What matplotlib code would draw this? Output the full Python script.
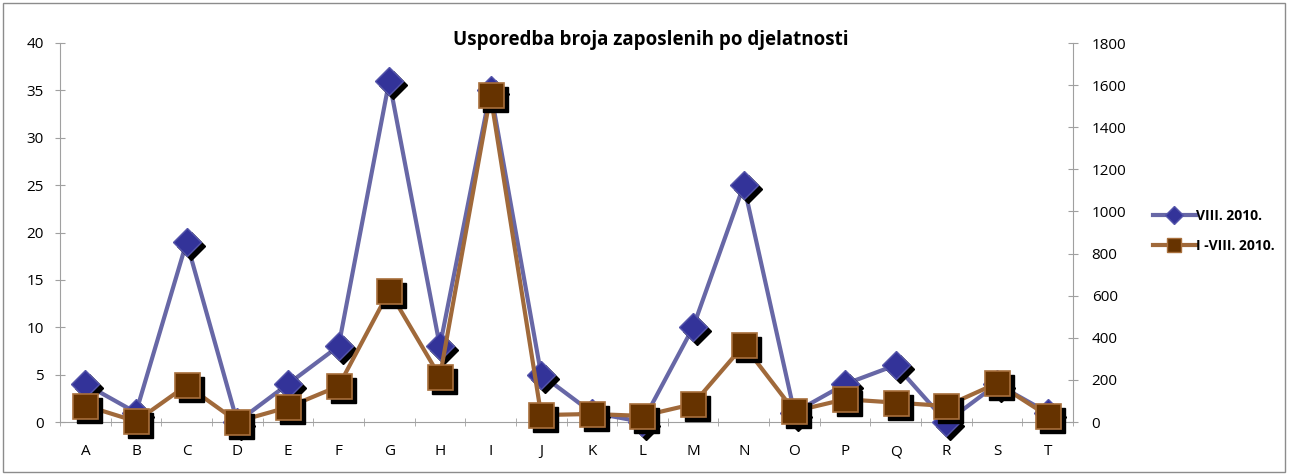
import matplotlib
matplotlib.use("Agg")
from matplotlib import pyplot as plt
from matplotlib import transforms
from matplotlib.patches import Rectangle
from matplotlib.lines import Line2D
import numpy as np

categories = ["A", "B", "C", "D", "E", "F", "G", "H", "I", "J",
              "K", "L", "M", "N", "O", "P", "Q", "R", "S", "T"]
viii_2010 = [4, 1, 19, 0, 4, 8, 36, 8, 35, 5, 1, 0, 10, 25, 1, 4, 6, 0, 4, 1]
i_viii_2010 = [78, 3, 174, 2, 70, 170, 622, 215, 1553, 33,
               38, 29, 85, 365, 51, 108, 92, 76, 184, 30]
left_ticks = [0, 5, 10, 15, 20, 25, 30, 35, 40]
right_ticks = [0, 200, 400, 600, 800, 1000, 1200, 1400, 1600, 1800]

blue_line = "#6767a6"
blue_face = "#333399"
blue_edge = "#5555aa"
brown_line = "#a0693a"
brown_face = "#663300"
brown_edge = "#a86f3c"

plt.rcParams["font.family"] = ["Open Sans", "DejaVu Sans"]

fig = plt.figure(figsize=(12.89, 4.74), dpi=100)
ax = fig.add_axes([60 / 1289, 1 - 422 / 474, (1073 - 60) / 1289, (422 - 43) / 474])
ax2 = ax.twinx()

x = np.arange(len(categories))

def shadow(a):
    return transforms.offset_copy(a.transData, fig=fig, x=4, y=-4, units="dots")

# series 1 on left axis
ax.plot(x, viii_2010, color=blue_line, lw=3, zorder=2, clip_on=False)
ax.plot(x, viii_2010, ls="none", marker="D", ms=14, color="black",
        transform=shadow(ax), zorder=3, clip_on=False)
ax.plot(x, viii_2010, ls="none", marker="D", ms=14, mfc=blue_face,
        mec=blue_edge, mew=1, zorder=4, clip_on=False)

# series 2 on right axis
ax2.plot(x, i_viii_2010, color=brown_line, lw=3, zorder=2, clip_on=False)
ax2.plot(x, i_viii_2010, ls="none", marker="s", ms=18, color="black",
         transform=shadow(ax2), zorder=3, clip_on=False)
ax2.plot(x, i_viii_2010, ls="none", marker="s", ms=18, mfc=brown_face,
         mec=brown_edge, mew=1.2, zorder=4, clip_on=False)

ax.set_xlim(-0.5, len(categories) - 0.5)
ax.set_ylim(0, 40)
ax2.set_ylim(0, 1800)
ax.set_yticks(left_ticks)
ax2.set_yticks(right_ticks)
ax.set_xticks(x)
ax.set_xticklabels(categories)
ax.set_xticks(np.arange(-0.5, len(categories)), minor=True)

axis_gray = "#a0a0a0"
for a in (ax, ax2):
    for s in a.spines.values():
        s.set_visible(False)
ax.spines["left"].set_visible(True)
ax.spines["left"].set_color(axis_gray)
ax.spines["bottom"].set_visible(True)
ax.spines["bottom"].set_color(axis_gray)
ax2.spines["right"].set_visible(True)
ax2.spines["right"].set_color(axis_gray)

ax.tick_params(axis="x", which="major", length=0, pad=16, labelsize=11)
ax.tick_params(axis="x", which="minor", length=6, color=axis_gray, direction="inout")
ax.tick_params(axis="y", length=7, color=axis_gray, direction="inout", labelsize=11, pad=8)
ax2.tick_params(axis="y", length=7, color=axis_gray, direction="inout", labelsize=11, pad=10)

fig.text(651 / 1289, 1 - 40 / 474, "Usporedba broja zaposlenih po djelatnosti",
         ha="center", va="center", fontsize=13.5, fontweight="bold")

handles = [
    Line2D([], [], color=blue_line, lw=3, marker="D", ms=9, mfc=blue_face, mec=blue_edge),
    Line2D([], [], color=brown_line, lw=3, marker="s", ms=10, mfc=brown_face, mec=brown_edge),
]
fig.legend(handles, ["VIII. 2010.", "I -VIII. 2010."], loc="center left",
           bbox_to_anchor=(1140 / 1289, 1 - 231 / 474), frameon=False,
           prop={"weight": "bold", "size": 10}, handlelength=3.1, handletextpad=0.05,
           labelspacing=1.2)

fig.patches.append(Rectangle((3 / 1289, 2 / 474), 1282 / 1289, 469 / 474,
                             transform=fig.transFigure, fill=False,
                             edgecolor="#8c8c8c", lw=1))

fig.savefig("out.png", dpi=100)
